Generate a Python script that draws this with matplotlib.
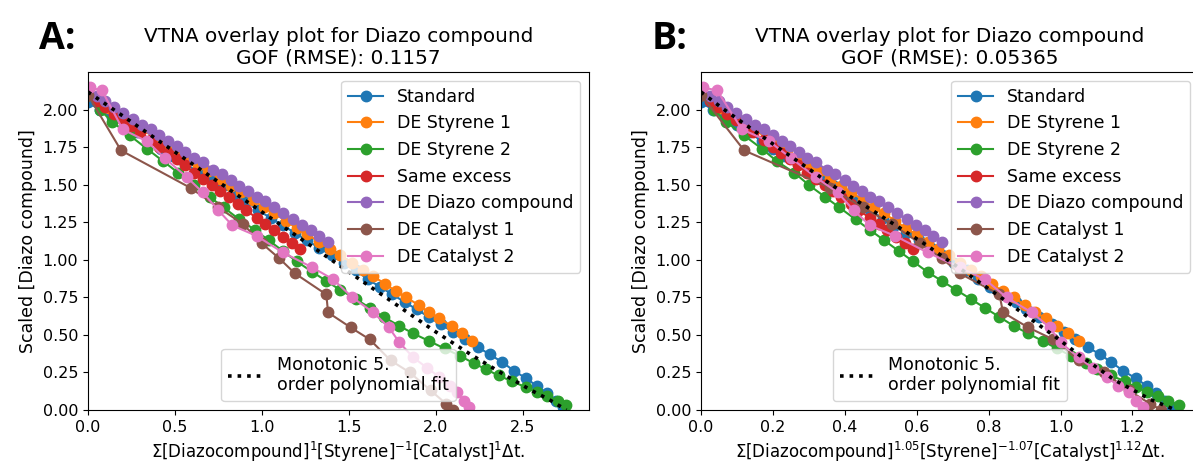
"""VTNA overlay plots (A: default orders, B: optimised orders) for the diazo compound."""

import matplotlib

matplotlib.use("Agg")
import matplotlib.pyplot as plt

SERIES_NAMES = [
    "Standard",
    "DE Styrene 1",
    "DE Styrene 2",
    "Same excess",
    "DE Diazo compound",
    "DE Catalyst 1",
    "DE Catalyst 2",
]
SERIES_COLORS = ["#1f77b4", "#ff7f0e", "#2ca02c", "#d62728", "#9467bd", "#8c564b", "#e377c2"]

# Standard
std_y = [2.05, 2.00, 1.95, 1.90, 1.85, 1.79, 1.74, 1.69, 1.64, 1.59, 1.54, 1.49, 1.44, 1.39,
         1.33, 1.28, 1.23, 1.18, 1.13, 1.08, 1.03, 0.98, 0.93, 0.87, 0.82, 0.77, 0.72, 0.67,
         0.62, 0.57, 0.52, 0.47, 0.42, 0.37, 0.32, 0.26, 0.21, 0.16, 0.11, 0.06, 0.02]
std_xa = [0.00, 0.07, 0.14, 0.21, 0.28, 0.35, 0.42, 0.49, 0.56, 0.63, 0.70, 0.77, 0.84, 0.91,
          0.98, 1.05, 1.12, 1.19, 1.26, 1.33, 1.40, 1.47, 1.54, 1.61, 1.68, 1.75, 1.82, 1.89,
          1.96, 2.03, 2.10, 2.17, 2.24, 2.31, 2.38, 2.45, 2.52, 2.58, 2.64, 2.69, 2.73]
std_xb = [0.00, 0.034, 0.067, 0.10, 0.135, 0.17, 0.20, 0.235, 0.27, 0.30, 0.335, 0.37, 0.40,
          0.435, 0.47, 0.505, 0.54, 0.57, 0.605, 0.64, 0.67, 0.705, 0.74, 0.77, 0.805, 0.84,
          0.875, 0.905, 0.94, 0.975, 1.01, 1.04, 1.075, 1.11, 1.14, 1.175, 1.21, 1.24, 1.265,
          1.29, 1.31]

# DE Styrene 1
sty1_y = [2.10, 2.06, 2.01, 1.96, 1.91, 1.87, 1.82, 1.77, 1.73, 1.68, 1.63, 1.59, 1.54, 1.49,
          1.45, 1.40, 1.35, 1.31, 1.26, 1.21, 1.17, 1.12, 1.07, 1.03, 0.98, 0.93, 0.89, 0.84,
          0.79, 0.75, 0.70, 0.65, 0.61, 0.56, 0.51, 0.46]
sty1_xa = [0.00, 0.06, 0.12, 0.19, 0.25, 0.31, 0.38, 0.44, 0.50, 0.57, 0.63, 0.69, 0.76, 0.82,
           0.88, 0.95, 1.01, 1.07, 1.14, 1.20, 1.26, 1.33, 1.39, 1.45, 1.52, 1.58, 1.64, 1.71,
           1.77, 1.83, 1.90, 1.96, 2.02, 2.09, 2.15, 2.21]
sty1_xb = [0.00, 0.03, 0.057, 0.09, 0.12, 0.147, 0.18, 0.21, 0.238, 0.27, 0.30, 0.328, 0.36,
           0.39, 0.418, 0.45, 0.48, 0.51, 0.54, 0.57, 0.60, 0.63, 0.66, 0.69, 0.72, 0.75, 0.78,
           0.81, 0.84, 0.87, 0.90, 0.93, 0.96, 0.99, 1.02, 1.05]

# DE Styrene 2
sty2_y = [2.10, 2.00, 1.92, 1.83, 1.74, 1.66, 1.58, 1.50, 1.42, 1.35, 1.27, 1.20, 1.13, 1.06,
          0.99, 0.92, 0.86, 0.80, 0.74, 0.68, 0.62, 0.56, 0.51, 0.46, 0.41, 0.36, 0.31, 0.27,
          0.23, 0.19, 0.15, 0.12, 0.09, 0.06, 0.03]
sty2_xa = [0.00, 0.07, 0.14, 0.24, 0.34, 0.43, 0.52, 0.61, 0.70, 0.78, 0.87, 0.96, 1.04, 1.12,
           1.20, 1.29, 1.37, 1.45, 1.54, 1.62, 1.70, 1.79, 1.87, 1.96, 2.05, 2.14, 2.22, 2.29,
           2.36, 2.44, 2.52, 2.58, 2.64, 2.70, 2.75]
sty2_xb = [0.00, 0.035, 0.07, 0.12, 0.17, 0.21, 0.26, 0.30, 0.345, 0.385, 0.43, 0.47, 0.51,
           0.55, 0.59, 0.63, 0.67, 0.71, 0.75, 0.79, 0.83, 0.87, 0.91, 0.95, 0.99, 1.03, 1.07,
           1.10, 1.14, 1.18, 1.21, 1.24, 1.27, 1.30, 1.33]

# Same excess
same_y = [2.10, 2.06, 2.02, 1.97, 1.93, 1.89, 1.85, 1.80, 1.75, 1.71, 1.67, 1.63, 1.58, 1.54,
          1.50, 1.46, 1.42, 1.37, 1.33, 1.28, 1.24, 1.20, 1.15, 1.11, 1.07]
same_xa = [0.00, 0.05, 0.10, 0.15, 0.20, 0.25, 0.30, 0.36, 0.41, 0.46, 0.51, 0.56, 0.61, 0.66,
           0.71, 0.76, 0.81, 0.86, 0.91, 0.97, 1.02, 1.07, 1.12, 1.17, 1.22]
same_xb = [0.00, 0.024, 0.048, 0.073, 0.097, 0.12, 0.145, 0.174, 0.20, 0.223, 0.247, 0.27,
           0.295, 0.32, 0.344, 0.368, 0.39, 0.416, 0.44, 0.47, 0.494, 0.518, 0.542, 0.566, 0.59]

# DE Diazo compound
diazo_y = [2.13, 2.09, 2.06, 2.02, 1.98, 1.94, 1.90, 1.87, 1.83, 1.79, 1.76, 1.72, 1.68, 1.65,
           1.60, 1.57, 1.53, 1.49, 1.46, 1.42, 1.39, 1.35, 1.31, 1.27, 1.23, 1.20, 1.16, 1.12]
diazo_xa = [0.00, 0.05, 0.10, 0.15, 0.20, 0.26, 0.31, 0.36, 0.41, 0.46, 0.51, 0.56, 0.61, 0.66,
            0.72, 0.77, 0.82, 0.87, 0.92, 0.97, 1.02, 1.07, 1.12, 1.18, 1.23, 1.28, 1.33, 1.38]
diazo_xb = [0.00, 0.024, 0.049, 0.073, 0.097, 0.126, 0.15, 0.175, 0.20, 0.224, 0.248, 0.272,
            0.296, 0.32, 0.35, 0.374, 0.40, 0.423, 0.447, 0.47, 0.496, 0.52, 0.544, 0.573, 0.598,
            0.622, 0.646, 0.67]

# DE Catalyst 1
cat1_y = [2.10, 1.73, 1.48, 1.35, 1.24, 1.11, 1.01, 0.91, 0.77, 0.65, 0.55, 0.47, 0.33, 0.25,
          0.13, 0.04, 0.00]
cat1_xa = [0.00, 0.19, 0.59, 0.75, 0.89, 1.00, 1.10, 1.19, 1.37, 1.38, 1.51, 1.62, 1.74, 1.85,
           1.97, 2.06, 2.10]
cat1_xb = [0.00, 0.12, 0.36, 0.45, 0.53, 0.61, 0.67, 0.72, 0.83, 0.84, 0.91, 0.98, 1.05, 1.12,
           1.19, 1.25, 1.28]

# DE Catalyst 2
cat2_y = [2.15, 2.13, 1.87, 1.79, 1.68, 1.55, 1.45, 1.33, 1.23, 1.16, 1.05, 0.95, 0.87, 0.75,
          0.65, 0.55, 0.45, 0.35, 0.28, 0.22, 0.16, 0.12, 0.06, 0.02]
cat2_xa = [0.01, 0.08, 0.20, 0.34, 0.44, 0.57, 0.66, 0.75, 0.83, 0.97, 1.12, 1.29, 1.41, 1.52,
           1.64, 1.73, 1.79, 1.87, 1.95, 2.02, 2.08, 2.12, 2.16, 2.19]
cat2_xb = [0.005, 0.045, 0.114, 0.19, 0.25, 0.32, 0.38, 0.425, 0.47, 0.54, 0.63, 0.72, 0.79,
           0.85, 0.92, 0.97, 1.00, 1.05, 1.09, 1.13, 1.16, 1.19, 1.21, 1.23]

# monotonic 5th order polynomial fit
fit_xa = [0.00, 0.25, 0.50, 0.75, 1.00, 1.25, 1.50, 1.75, 2.00, 2.20, 2.40, 2.55, 2.65, 2.75]
fit_ya = [2.12, 1.92, 1.72, 1.52, 1.32, 1.12, 0.92, 0.72, 0.52, 0.37, 0.23, 0.13, 0.07, 0.00]
fit_xb = [0.00, 0.06, 0.19, 0.37, 0.49, 0.62, 0.74, 0.84, 0.99, 1.05, 1.15, 1.25, 1.32]
fit_yb = [2.12, 2.01, 1.79, 1.49, 1.31, 1.11, 0.91, 0.74, 0.48, 0.37, 0.20, 0.07, 0.00]

SERIES_Y = [std_y, sty1_y, sty2_y, same_y, diazo_y, cat1_y, cat2_y]
SERIES_XA = [std_xa, sty1_xa, sty2_xa, same_xa, diazo_xa, cat1_xa, cat2_xa]
SERIES_XB = [std_xb, sty1_xb, sty2_xb, same_xb, diazo_xb, cat1_xb, cat2_xb]

PANELS = [
    {
        "tag": "A:",
        "xs": SERIES_XA,
        "fit": (fit_xa, fit_ya),
        "gof": "0.1157",
        "xlabel": r"Σ[Diazocompound]$^{1}$[Styrene]$^{-1}$[Catalyst]$^{1}$Δt.",
        "xlim": 2.88,
        "left": 88,
        "width": 501,
    },
    {
        "tag": "B:",
        "xs": SERIES_XB,
        "fit": (fit_xb, fit_yb),
        "gof": "0.05365",
        "xlabel": r"Σ[Diazocompound]$^{1.05}$[Styrene]$^{-1.07}$[Catalyst]$^{1.12}$Δt.",
        "xlim": 1.385,
        "left": 701,
        "width": 498,
    },
]

W, H = 1193, 466
FS = 12


def draw_panel(fig, panel):
    left, width = panel["left"], panel["width"]
    ax = fig.add_axes([left / W, 56 / H, width / W, 338 / H])
    handles = []
    for name, color, xs, ys in zip(SERIES_NAMES, SERIES_COLORS, panel["xs"], SERIES_Y):
        (line,) = ax.plot(xs, ys, "-o", color=color, lw=1.5, ms=7.5, label=name)
        handles.append(line)
    (fit_line,) = ax.plot(*panel["fit"], ":", color="black", lw=2.6,
                          label="Monotonic 5.\norder polynomial fit")

    ax.set_xlim(0, panel["xlim"])
    ax.set_ylim(0, 2.253)
    ax.set_yticks([0.0, 0.25, 0.5, 0.75, 1.0, 1.25, 1.5, 1.75, 2.0])
    ax.yaxis.set_major_formatter(matplotlib.ticker.FormatStrFormatter("%.2f"))
    ax.tick_params(labelsize=11.5)
    ax.set_title(f"VTNA overlay plot for Diazo compound\nGOF (RMSE): {panel['gof']}",
                 fontsize=14.4)
    ax.set_xlabel(panel["xlabel"], fontsize=FS)
    ax.set_ylabel("Scaled [Diazo compound]", fontsize=12.5)

    main_leg = ax.legend(handles=handles, loc="upper right", fontsize=12.5)
    ax.add_artist(main_leg)
    ax.legend(handles=[fit_line], loc="lower center", fontsize=12.5)

    fig.text((left - 49) / W, 1 - 49 / H, panel["tag"], fontsize=27, fontweight="bold",
             family="Open Sans")
    return ax


def main():
    fig = plt.figure(figsize=(W / 100, H / 100), dpi=100)
    for panel in PANELS:
        draw_panel(fig, panel)
    fig.savefig("out.png", dpi=100)


if __name__ == "__main__":
    main()
